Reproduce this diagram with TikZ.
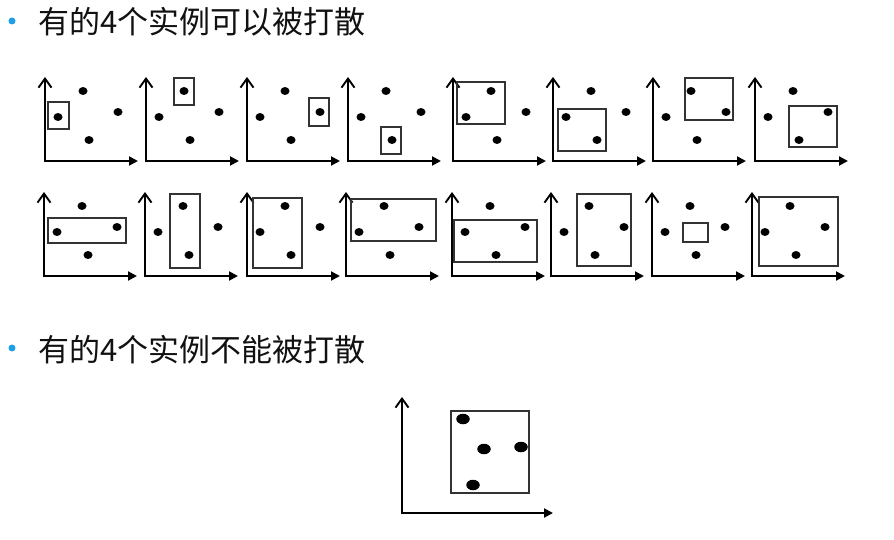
\documentclass[tikz,border=0pt]{standalone}
\usepackage{fontspec}
\newfontfamily\cjk{Noto Sans CJK SC}
\usetikzlibrary{arrows.meta,shapes.geometric}
\definecolor{bulletblue}{HTML}{1EA0E8}
\definecolor{txt}{HTML}{111111}
\newcommand\mypanel[3]{%
  \coordinate (o#1) at (#2,#3+1);
  \coordinate (t#1) at (#2,#3-84);
  \coordinate (s#1) at (#2-1,#3);
  \coordinate (e#1) at (#2+93,#3);
  \draw[yax] (o#1) -- (t#1);
  \draw[xax] (s#1) -- (e#1);
  \node[dot] (a#1) at (#2+38,#3-70) {};
  \node[dot] (b#1) at (#2+73,#3-49) {};
  \node[dot] (c#1) at (#2+13,#3-44) {};
  \node[dot] (d#1) at (#2+44,#3-21) {};
}
\begin{document}
\begin{tikzpicture}[x=1pt,y=-1pt,
  yax/.style={line width=1.9pt,-{Straight Barb[length=9pt,width=13pt]}},
  xax/.style={line width=1.9pt,-{Triangle[length=9pt,width=9pt]}},
  dot/.style={ellipse,fill=black,inner sep=0pt,minimum width=9pt,minimum height=8pt},
  bigdot/.style={ellipse,fill=black,inner sep=0pt,minimum width=13.5pt,minimum height=10.5pt},
  box/.style={draw=black!80,line width=1.4pt},
  head/.style={anchor=west,text=txt,inner sep=0pt,font=\cjk\fontsize{31}{36}\selectfont},
  bul/.style={circle,fill=bulletblue,inner sep=0pt,minimum size=7pt}]
\useasboundingbox (0,0) rectangle (894,540);
% headings
\node[bul] (b1) at (12,21) {};
\node[head] (h1) at (38,22) {有的4个实例可以被打散};
\node[bul] (b2) at (12,348) {};
\node[head] (h2) at (38,350) {有的4个实例不能被打散};
% row 1
\mypanel{p1}{45}{161}
\mypanel{p2}{146}{161}
\mypanel{p3}{247}{161}
\mypanel{p4}{348}{161}
\mypanel{p5}{453}{161}
\mypanel{p6}{553}{161}
\mypanel{p7}{653}{161}
\mypanel{p8}{755}{161}
\draw[box] (48,102) rectangle (69,129);
\draw[box] (174,78) rectangle (194,105);
\draw[box] (309,98) rectangle (329,126);
\draw[box] (381,127) rectangle (401,154);
\draw[box] (457,82) rectangle (505,124);
\draw[box] (558,109) rectangle (606,151);
\draw[box] (685,78) rectangle (733,120);
\draw[box] (789,106) rectangle (837,147);
% row 2
\mypanel{q1}{44}{276}
\mypanel{q2}{145}{276}
\mypanel{q3}{247}{276}
\mypanel{q4}{346}{276}
\mypanel{q5}{452}{276}
\mypanel{q6}{551}{276}
\mypanel{q7}{652}{276}
\mypanel{q8}{752}{276}
\draw[box] (48,218) rectangle (126,243);
\draw[box] (170,194) rectangle (200,268);
\draw[box] (253,198) rectangle (302,268);
\draw[box] (351,199) rectangle (436,241);
\draw[box] (454,220) rectangle (537,262);
\draw[box] (577,194) rectangle (631,266);
\draw[box] (683,223) rectangle (708,242);
\draw[box] (759,197) rectangle (838,266);
% bottom
\coordinate (oz) at (402,514);
\coordinate (tz) at (402,397);
\coordinate (sz) at (401,513);
\coordinate (ez) at (553,513);
\draw[yax] (oz) -- (tz);
\draw[xax] (sz) -- (ez);
\draw[box] (451,411) rectangle (529,493);
\node[bigdot] (za) at (463,419) {};
\node[bigdot] (zb) at (484,449) {};
\node[bigdot] (zc) at (521,447) {};
\node[bigdot] (zd) at (473,485) {};
\end{tikzpicture}
\end{document}
